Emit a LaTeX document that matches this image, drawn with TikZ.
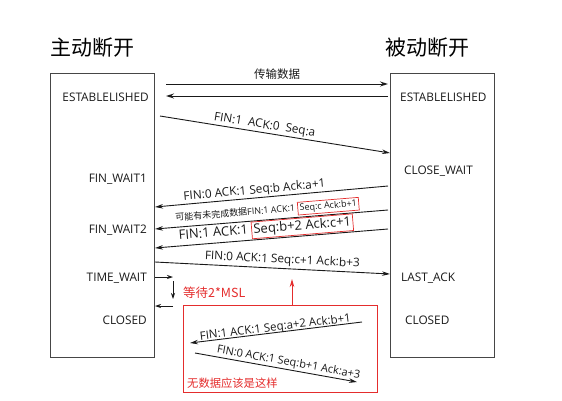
\documentclass[tikz,border=0pt]{standalone}
\usepackage{fontspec}
\setmainfont{Open Sans}
\newfontfamily\cjk{Noto Sans CJK SC}
\usetikzlibrary{arrows.meta}
\definecolor{myred}{RGB}{228,45,45}
\definecolor{lin}{RGB}{25,25,25}
\definecolor{boxc}{RGB}{70,70,70}
\setlength\fboxsep{1.5pt}
\setlength\fboxrule{0.7pt}
\newcommand\redframe[1]{\fcolorbox{myred}{white}{#1}}
\newcommand\fs[1]{\fontsize{#1}{#1}\selectfont}
\tikzset{
  statebox/.style={draw=boxc,line width=1pt,minimum width=104pt,minimum height=284pt,inner sep=0pt},
  stlab/.style={font=\fs{11.8},text=black!90,inner sep=0pt},
  title/.style={font=\cjk\fs{21},inner sep=0pt},
  msg/.style={draw=lin,line width=0.9pt},
  tip/.style={-{Stealth[length=8pt,width=4.5pt]}},
  rtip/.style={{Stealth[length=8pt,width=4.5pt]}-},
  otip/.style={-{Stealth[length=8pt,width=5pt,open]}},
  lbl/.style={sloped,inner sep=1pt,text=black!90},
}
\begin{document}
\begin{tikzpicture}[x=1pt,y=-1pt]
\useasboundingbox (0,0) rectangle (562,400);
% titles
\node[title] (t1) at (92,48) {主动断开};
\node[title] (t2) at (427,48) {被动断开};
% boxes
\node[statebox] (L) at (102,215) {};
\node[statebox] (R) at (442.5,215) {};
% left states
\node[stlab,anchor=east] (l1) at (149,97) {ESTABLELISHED};
\node[stlab,anchor=east] (l2) at (147,179) {FIN\_WAIT1};
\node[stlab,anchor=east] (l3) at (147,230) {FIN\_WAIT2};
\node[stlab,anchor=east] (l4) at (147,278) {TIME\_WAIT};
\node[stlab,anchor=east] (l5) at (147,320) {CLOSED};
% right states
\node[stlab,anchor=west] (r1) at (400,97) {ESTABLELISHED};
\node[stlab,anchor=west] (r2) at (404,171) {CLOSE\_WAIT};
\node[stlab,anchor=west] (r3) at (401,278) {LAST\_ACK};
\node[stlab,anchor=west] (r4) at (405,320) {CLOSED};
% endpoints
\coordinate (d1a) at (166,84);  \coordinate (d1b) at (388,84);
\coordinate (d2a) at (166,96);  \coordinate (d2b) at (388,96);
\coordinate (m1a) at (160,116); \coordinate (m1b) at (390,153);
\coordinate (m2a) at (155,207); \coordinate (m2b) at (388,186);
\coordinate (m3a) at (155,229); \coordinate (m3b) at (388,210);
\coordinate (m4a) at (155,248); \coordinate (m4b) at (388,229);
\coordinate (m5a) at (155,262); \coordinate (m5b) at (390,274);
% data transfer
\draw[msg,otip] (d1a) -- node[lbl,above=3pt,font=\cjk\fs{11.5}] (tx) {传输数据} (d1b);
\draw[msg,otip] (d2b) -- (d2a);
% messages
\draw[msg,tip] (m1a) -- node[lbl,pos=0.45,above=0pt,font=\fs{11.8}] (x1) {FIN:1\ \ ACK:0\ \ Seq:a} (m1b);
\draw[msg,rtip] (m2a) -- node[lbl,pos=0.43,above=0pt,font=\fs{11.8}] (x2) {FIN:0 ACK:1 Seq:b Ack:a+1} (m2b);
\draw[msg,rtip] (m3a) -- node[lbl,pos=0.485,above=0.5pt,font=\fs{9}] (x3) {{\cjk 可能有未完成数据}FIN:1 ACK:1 \redframe{Seq:c Ack:b+1}} (m3b);
\draw[msg,rtip] (m4a) -- node[lbl,pos=0.48,above=-0.5pt,font=\fs{13}] (x4) {FIN:1 ACK:1 \redframe{Seq:b+2 Ack:c+1}} (m4b);
\draw[msg,tip] (m5a) -- node[lbl,pos=0.54,above=1pt,font=\fs{11.8}] (x5) {FIN:0 ACK:1 Seq:c+1 Ack:b+3} (m5b);
% time wait
\coordinate (w1a) at (155,277); \coordinate (w1b) at (173,277);
\coordinate (w2a) at (173,281); \coordinate (w2b) at (173,299);
\coordinate (w3a) at (173,306); \coordinate (w3b) at (155,306);
\draw[msg,line width=0.8pt,-{Stealth[length=6pt,width=4pt]}] (w1a) -- (w1b);
\draw[msg,line width=0.8pt,-{Stealth[length=6pt,width=4pt]}] (w2a) -- (w2b);
\draw[msg,line width=0.8pt,-{Stealth[length=6pt,width=4pt]}] (w3a) -- (w3b);
\node[font=\cjk\fs{12.5},text=myred,anchor=west,inner sep=0pt] (wait) at (183,293) {等待2*MSL};
% red box
\node[draw=myred,line width=1pt,minimum width=194pt,minimum height=87pt,inner sep=0pt] (RB) at (280,348.5) {};
\coordinate (up) at (292,279);
\draw[draw=myred,line width=1pt,-{Stealth[length=8pt,width=4.5pt]}] (RB.north -| up) -- (up);
\coordinate (n1a) at (190,343); \coordinate (n1b) at (362,322);
\coordinate (n2a) at (195,353); \coordinate (n2b) at (357,382);
\draw[msg,rtip] (n1a) -- node[lbl,pos=0.5,above=-2.5pt,font=\fs{11.5}] (y1) {FIN:1 ACK:1 Seq:a+2 Ack:b+1} (n1b);
\draw[msg,tip] (n2a) -- node[lbl,pos=0.57,above=0pt,font=\fs{11}] (y2) {FIN:0 ACK:1 Seq:b+1 Ack:a+3} (n2b);
\node[font=\cjk\fs{11.3},text=myred,anchor=west,inner sep=0pt] (nodata) at (187,383) {无数据应该是这样};
\end{tikzpicture}
\end{document}
